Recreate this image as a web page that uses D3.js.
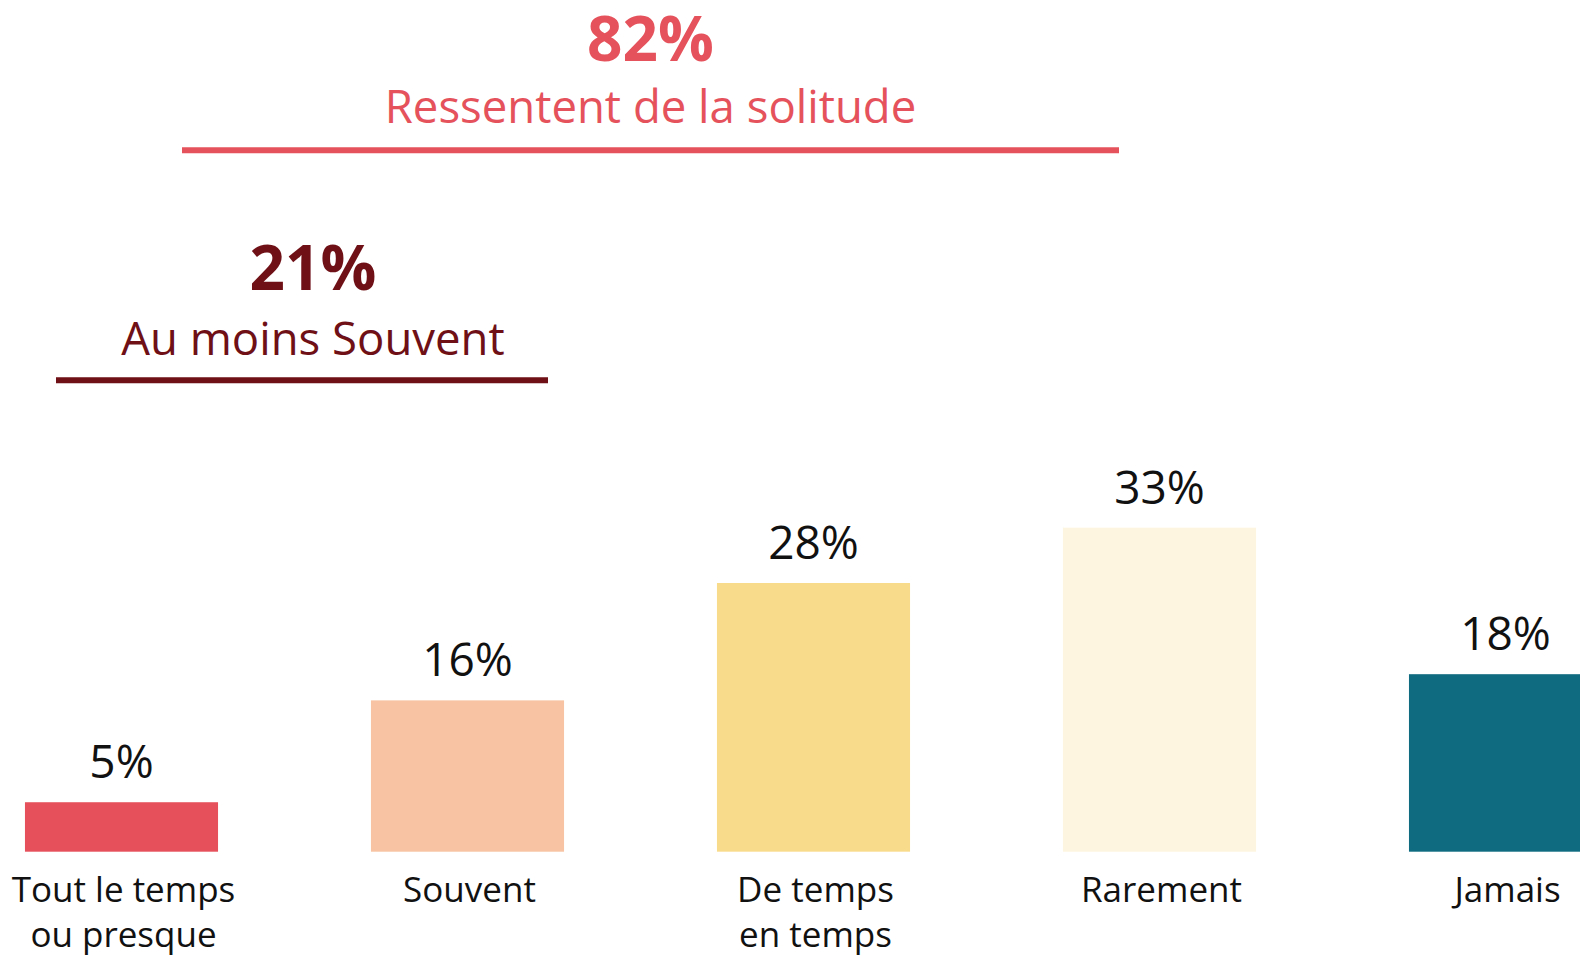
<!DOCTYPE html>
<html>
<head>
<meta charset="utf-8">
<script src="https://cdn.jsdelivr.net/npm/d3@7"></script>
<style>
  html, body { margin: 0; padding: 0; background: #ffffff; }
  svg { display: block; }
  text { font-family: "Open Sans", "Noto Sans", sans-serif; }
</style>
</head>
<body>
<svg id="chart" width="1580" height="956"></svg>
<script>
// ---- data ----
const categories = ["Tout le temps\nou presque", "Souvent", "De temps\nen temps", "Rarement", "Jamais"];
const values = [5.1, 15.6, 27.7, 33.4, 18.3];
const barColors = ["#E6505A", "#F7C3A3", "#F8DC8C", "#FDF5DF", "#0F6B7F"];
const summaryTitles = ["Ressentent de la solitude", "Au moins Souvent"];
const summaryCounts = [4, 2]; // number of leading categories summed

// ---- layout ----
const W = 1580, H = 956;
const svg = d3.select("#chart");

const x = d3.scaleBand()
  .domain(categories)
  .range([-51.5, 1678.5])
  .paddingInner(0.442)
  .paddingOuter(0.221);

const y = d3.scaleLinear()
  .domain([0, 35])
  .range([851.7, 851.7 - 35 * 9.7]);

// bars
svg.append("g").selectAll("rect")
  .data(values)
  .join("rect")
  .attr("x", (d, i) => x(categories[i]))
  .attr("width", x.bandwidth())
  .attr("y", d => y(d))
  .attr("height", d => y(0) - y(d))
  .attr("fill", (d, i) => barColors[i]);

// value labels
svg.append("g").selectAll("text")
  .data(values)
  .join("text")
  .attr("x", (d, i) => x(categories[i]) + x.bandwidth() / 2)
  .attr("y", d => y(d) - 24)
  .attr("text-anchor", "middle")
  .attr("font-size", 46)
  .attr("fill", "#111111")
  .text(d => Math.round(d) + "%");

// category labels
const catG = svg.append("g");
categories.forEach((c, i) => {
  const cx = x(c) + x.bandwidth() / 2 + 2;
  const t = catG.append("text")
    .attr("x", cx)
    .attr("y", 901.7)
    .attr("text-anchor", "middle")
    .attr("font-size", 35)
    .attr("fill", "#111111");
  c.split("\n").forEach((line, j) => {
    t.append("tspan")
      .attr("x", cx)
      .attr("dy", j === 0 ? 0 : 45)
      .text(line);
  });
});

// summary annotations
const sumOf = n => d3.sum(values.slice(0, n));
const annots = [
  { total: sumOf(summaryCounts[0]), title: summaryTitles[0], color: "#E5525B",
    cx: 650.5, numY: 60.5, subY: 123, lineY: 150.3, x1: 182, x2: 1119 },
  { total: sumOf(summaryCounts[1]), title: summaryTitles[1], color: "#6E1016",
    cx: 313, numY: 290, subY: 354.5, lineY: 380.3, x1: 56, x2: 548 }
];
const aG = svg.append("g");
annots.forEach(a => {
  aG.append("text")
    .attr("x", a.cx).attr("y", a.numY)
    .attr("text-anchor", "middle")
    .attr("font-size", 62).attr("font-weight", 700)
    .attr("fill", a.color)
    .text(Math.round(a.total) + "%");
  aG.append("text")
    .attr("x", a.cx).attr("y", a.subY)
    .attr("text-anchor", "middle")
    .attr("font-size", 45.5)
    .attr("fill", a.color)
    .text(a.title);
  aG.append("line")
    .attr("x1", a.x1).attr("x2", a.x2)
    .attr("y1", a.lineY).attr("y2", a.lineY)
    .attr("stroke", a.color).attr("stroke-width", 6);
});
</script>
</body>
</html>
